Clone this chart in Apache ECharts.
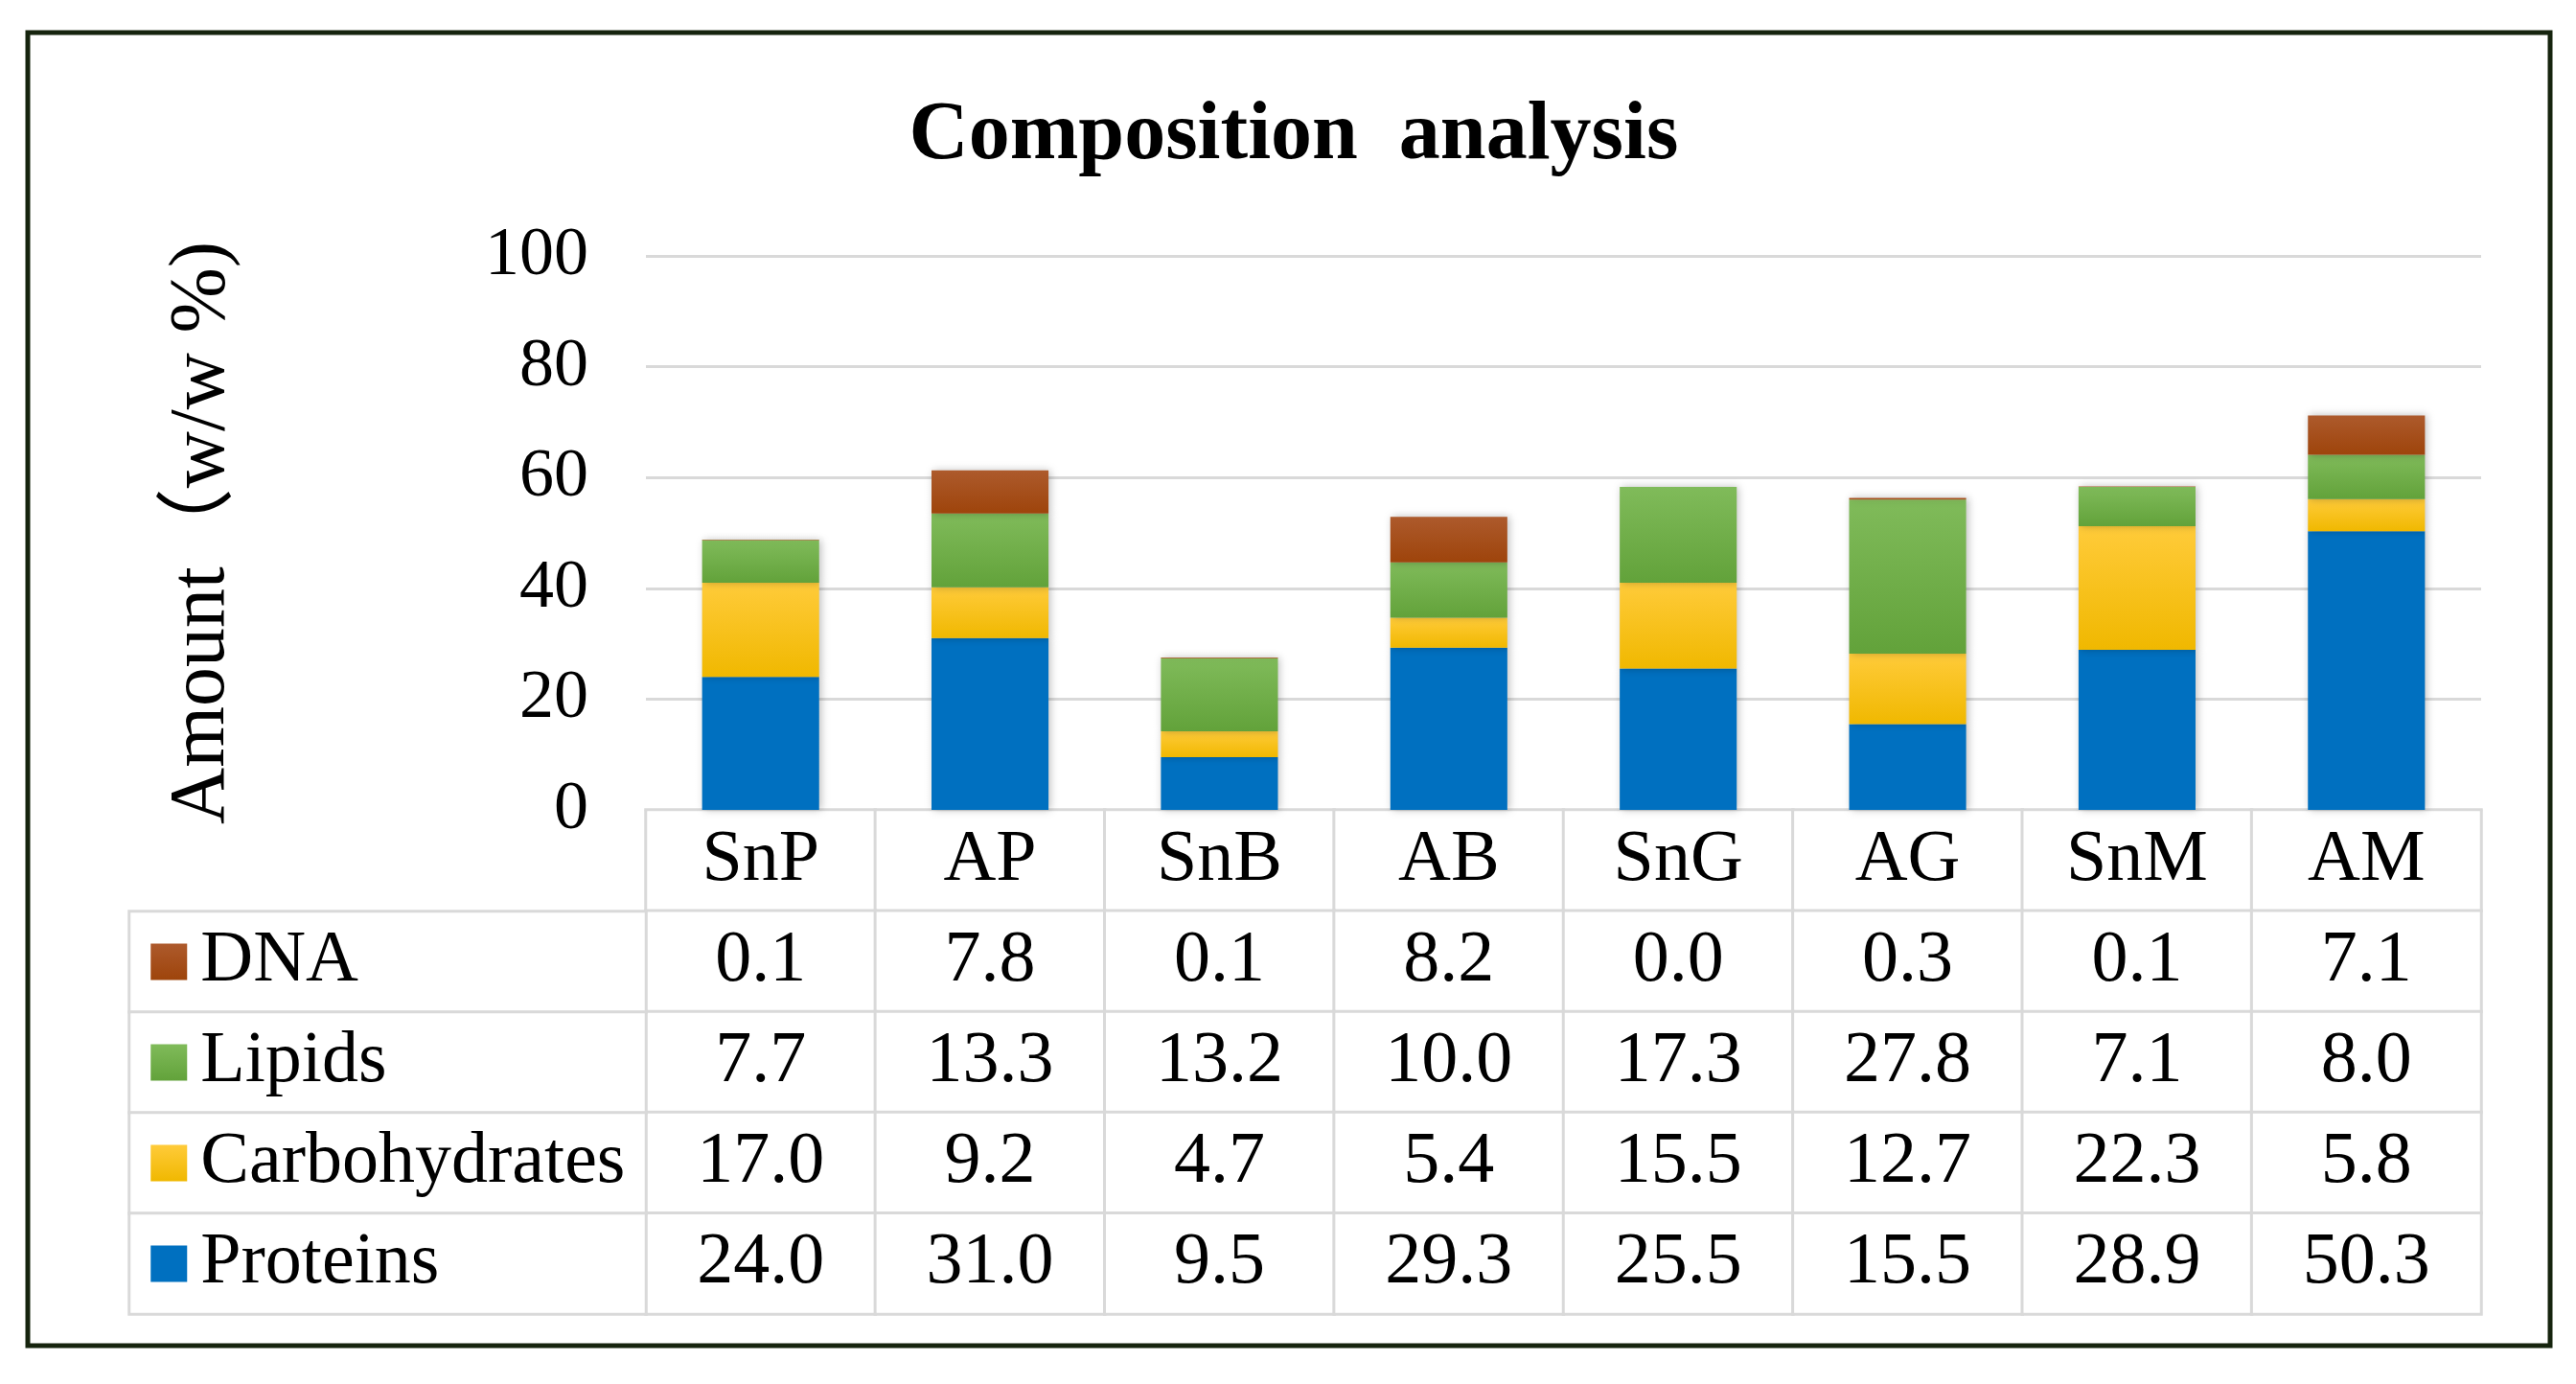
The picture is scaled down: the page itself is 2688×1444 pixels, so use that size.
<!DOCTYPE html>
<html>
<head>
<meta charset="utf-8">
<script src="https://cdn.jsdelivr.net/npm/echarts@6/dist/echarts.min.js"></script>
<style>
html,body{margin:0;padding:0;background:#fff;}
#c{width:2688px;height:1444px;}
</style>
</head>
<body>
<div id="c"></div>
<script>
// ---- data ----
const categories = ['SnP','AP','SnB','AB','SnG','AG','SnM','AM'];
const dna      = [0.1, 7.8, 0.1, 8.2, 0.0, 0.3, 0.1, 7.1];
const lipids   = [7.7, 13.3, 13.2, 10.0, 17.3, 27.8, 7.1, 8.0];
const carbs    = [17.0, 9.2, 4.7, 5.4, 15.5, 12.7, 22.3, 5.8];
const proteins = [24.0, 31.0, 9.5, 29.3, 25.5, 15.5, 28.9, 50.3];
const seriesNames = ['DNA','Lipids','Carbohydrates','Proteins'];
const yMin = 0, yMax = 100, yInterval = 20;
const titleText = 'Composition  analysis';
const yName = 'Amount（w/w %)';

// ---- styling ----
const FONT = "'Liberation Serif', 'Times New Roman', 'Noto Sans CJK SC', serif";
const GRID_LINE = '#d9d9d9';
const colors = {
  'DNA': ['#ad5a2c', '#9e440b'],
  'Lipids': ['#80bb5a', '#62a23a'],
  'Carbohydrates': ['#ffcb3a', '#f0b800'],
  'Proteins': ['#0070c0', '#0070c0']
};
function grad(name){
  return new echarts.graphic.LinearGradient(0,0,0,1,[
    {offset:0,color:colors[name][0]},{offset:1,color:colors[name][1]}]);
}
const seriesData = {'DNA':dna,'Lipids':lipids,'Carbohydrates':carbs,'Proteins':proteins};

const chart = echarts.init(document.getElementById('c'));

// table rows: header row + 4 series rows
const tableRows = ['header'].concat(seriesNames);
const tableCells = [];
tableRows.forEach((r, ri) => {
  categories.forEach((c, ci) => tableCells.push([ci, ri, 0]));
});
const labelCells = seriesNames.map((n, i) => [0, i, 0]);

const stackOrder = ['Proteins','Carbohydrates','Lipids','DNA'];
const barSeries = stackOrder.map(n => ({
  name: n, type: 'bar', stack: 'total', xAxisIndex: 0, yAxisIndex: 0,
  barWidth: '51%',
  data: seriesData[n],
  itemStyle: {color: grad(n), shadowBlur: 8, shadowColor: 'rgba(0,0,0,0.25)', shadowOffsetX: 2},
  emphasis: {disabled: true}
}));

const rich = {t: {fontFamily: FONT, fontSize: 76, color: '#000', padding: [0,0,0,14]}};
seriesNames.forEach(n => {
  rich['sq_' + n] = {width: 38, height: 38, backgroundColor: grad(n)};
});

const option = {
  backgroundColor: '#fff',
  animation: false,
  title: {
    text: titleText, left: 1345, textAlign: 'center', top: 95,
    textStyle: {fontFamily: FONT, fontSize: 86, fontWeight: 'bold', color: '#000'}
  },
  graphic: [{
    type: 'rect', shape: {x: 29, y: 34, width: 2632, height: 1370},
    style: {fill: 'none', stroke: '#16240e', lineWidth: 5}, silent: true
  }],
  grid: [
    {left: 674, top: 267, width: 1915, height: 578},
    {left: 674, top: 845, width: 1915, height: 526},
    {left: 135, top: 951, width: 539, height: 420}
  ],
  visualMap: {show: false, min: 0, max: 1, inRange: {color: ['#ffffff','#ffffff']}, seriesIndex: [4,5]},
  xAxis: [
    {type: 'category', gridIndex: 0, data: categories,
     axisLine: {lineStyle: {color: GRID_LINE, width: 3}}, axisTick: {show: false}, axisLabel: {show: false}},
    {type: 'category', gridIndex: 1, data: categories, show: false},
    {type: 'category', gridIndex: 2, data: ['label'], show: false}
  ],
  yAxis: [
    {type: 'value', gridIndex: 0, min: yMin, max: yMax, interval: yInterval,
     axisLine: {show: false}, axisTick: {show: false},
     splitLine: {lineStyle: {color: GRID_LINE, width: 3}},
     axisLabel: {fontFamily: FONT, fontSize: 72, color: '#000', margin: 60},
     name: yName, nameLocation: 'middle', nameRotate: 90, nameGap: 422,
     nameTextStyle: {fontFamily: FONT, fontSize: 82, color: '#000'}},
    {type: 'category', gridIndex: 1, data: tableRows, inverse: true, show: false},
    {type: 'category', gridIndex: 2, data: seriesNames, inverse: true, show: false}
  ],
  series: barSeries.concat([
    {
      type: 'heatmap', xAxisIndex: 1, yAxisIndex: 1, data: tableCells,
      itemStyle: {borderColor: GRID_LINE, borderWidth: 3, color: '#fff'},
      emphasis: {disabled: true},
      label: {
        show: true, fontFamily: FONT, fontSize: 76, color: '#000',
        formatter: p => {
          const ci = p.data[0], ri = p.data[1];
          if (ri === 0) return categories[ci];
          return seriesData[seriesNames[ri-1]][ci].toFixed(1);
        }
      }
    },
    {
      type: 'heatmap', xAxisIndex: 2, yAxisIndex: 2, data: labelCells,
      itemStyle: {borderColor: GRID_LINE, borderWidth: 3, color: '#fff'},
      emphasis: {disabled: true},
      label: {
        show: true, position: 'insideLeft', distance: 24,
        formatter: p => {
          const n = seriesNames[p.data[1]];
          return '{sq_' + n + '|}{t|' + n + '}';
        },
        rich: rich
      }
    }
  ])
};
chart.setOption(option);
</script>
</body>
</html>
